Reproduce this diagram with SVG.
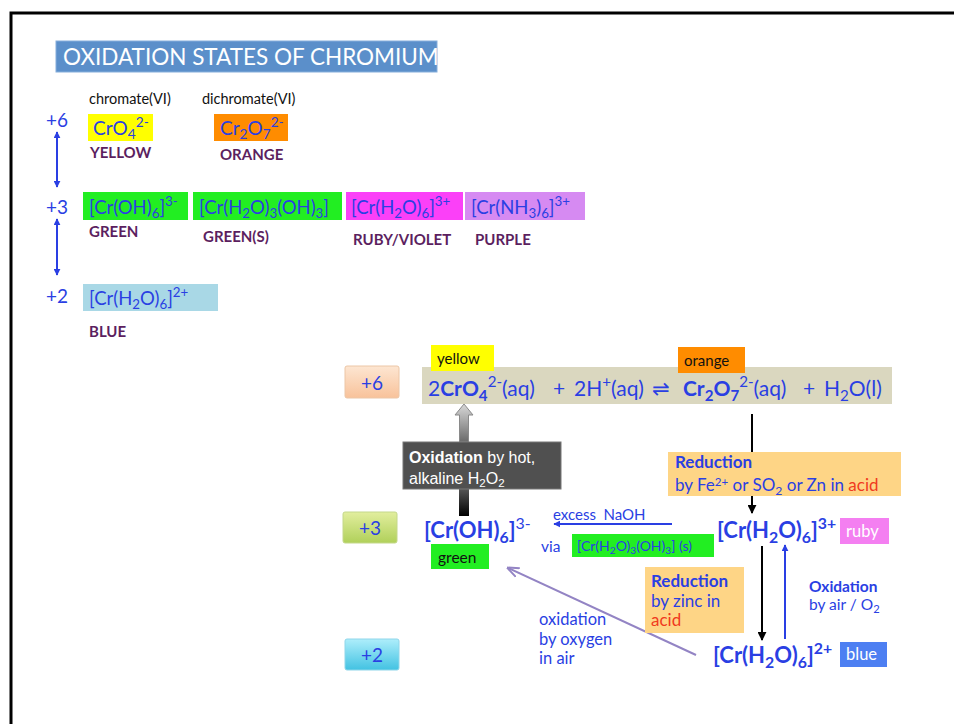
<svg xmlns="http://www.w3.org/2000/svg" width="954" height="724" viewBox="0 0 954 724">
<defs>
<style>
text{font-family:Lato,"Noto Sans","DejaVu Sans",sans-serif}
.bl{fill:#2a3fe3}
.lb{fill:#5c1f5f;font-weight:bold;font-size:15px}
.sb{font-size:72%;baseline-shift:-0.3em}
.sp{font-size:72%;baseline-shift:0.6em}
.sp2{font-size:68%;baseline-shift:0.45em}
.bo{font-weight:bold}
.red{fill:#f03a1e}
.wt{fill:#ffffff}
.ln{fill:none;stroke-width:2}
</style>
<linearGradient id="g6" x1="0" y1="0" x2="0" y2="1"><stop offset="0" stop-color="#fde6d2"/><stop offset="1" stop-color="#f8c29a"/></linearGradient>
<linearGradient id="g3" x1="0" y1="0" x2="0" y2="1"><stop offset="0" stop-color="#e2ee9e"/><stop offset="1" stop-color="#b0d05a"/></linearGradient>
<linearGradient id="g2" x1="0" y1="0" x2="0" y2="1"><stop offset="0" stop-color="#aeeefb"/><stop offset="1" stop-color="#42c2e2"/></linearGradient>
<linearGradient id="gg" x1="0" y1="0" x2="0" y2="1"><stop offset="0" stop-color="#d8d8d8"/><stop offset="1" stop-color="#6a6a6a"/></linearGradient>
<linearGradient id="gk" x1="0" y1="0" x2="0" y2="1"><stop offset="0" stop-color="#555"/><stop offset="1" stop-color="#000"/></linearGradient>
<marker id="ab" viewBox="0 0 10 10" refX="9" refY="5" markerWidth="7" markerHeight="7" markerUnits="userSpaceOnUse" orient="auto-start-reverse"><path d="M0,0 L10,5 L0,10 z" fill="#2a3fe3"/></marker>
<marker id="ak" viewBox="0 0 10 10" refX="9" refY="5" markerWidth="9" markerHeight="9" markerUnits="userSpaceOnUse" orient="auto"><path d="M0,0 L10,5 L0,10 z" fill="#000"/></marker>
<marker id="ap" viewBox="0 0 10 10" refX="9" refY="5" markerWidth="12" markerHeight="12" markerUnits="userSpaceOnUse" orient="auto"><path d="M0,1 L10,5 L0,9" fill="none" stroke="#9384c4" stroke-width="1.6"/></marker>
</defs>
<rect x="0" y="0" width="954" height="724" fill="#fff"/>
<path d="M11,724 V13 H954" fill="none" stroke="#000" stroke-width="3"/>

<g id="title">
<rect x="56" y="41" width="381" height="31" fill="#5b8fca" stroke="#86aedb" stroke-width="1"/>
<text x="63" y="65" font-size="22.5" fill="#fff">OXIDATION STATES OF CHROMIUM</text>
</g>

<g id="legend-connectors">
<line x1="57" y1="132" x2="57" y2="187" class="ln" stroke="#2a3fe3" stroke-width="1.5" marker-start="url(#ab)" marker-end="url(#ab)"/>
<line x1="57" y1="219" x2="57" y2="275" class="ln" stroke="#2a3fe3" stroke-width="1.5" marker-start="url(#ab)" marker-end="url(#ab)"/>
</g>

<g id="state6-top">
<text x="46" y="127" font-size="19" class="bl">+6</text>
<text x="89" y="104" font-size="14.5" fill="#111">chromate(VI)</text>
<text x="202" y="104" font-size="14.5" fill="#111">dichromate(VI)</text>
<rect x="88" y="114" width="65" height="27" fill="#ffff00"/>
<text x="93" y="135" font-size="19" class="bl">CrO<tspan class="sb">4</tspan><tspan class="sp">2-</tspan></text>
<rect x="214" y="114" width="74" height="27" fill="#ff8c00"/>
<text x="220" y="135" font-size="19" class="bl">Cr<tspan class="sb">2</tspan>O<tspan class="sb">7</tspan><tspan class="sp">2-</tspan></text>
<text x="90" y="158" class="lb">YELLOW</text>
<text x="220" y="160" class="lb">ORANGE</text>
</g>

<g id="state3-top">
<text x="46" y="214" font-size="19" class="bl">+3</text>
<rect x="83" y="192" width="105" height="28" fill="#22ee22"/>
<text x="89" y="214" font-size="18.5" class="bl">[Cr(OH)<tspan class="sb">6</tspan>]<tspan class="sp">3-</tspan></text>
<rect x="193" y="192" width="149" height="28" fill="#22ee22"/>
<text x="199" y="214" font-size="18.5" class="bl">[Cr(H<tspan class="sb">2</tspan>O)<tspan class="sb">3</tspan>(OH)<tspan class="sb">3</tspan>]</text>
<rect x="346" y="192" width="117" height="28" fill="#fb40f8"/>
<text x="351" y="214" font-size="18.5" class="bl">[Cr(H<tspan class="sb">2</tspan>O)<tspan class="sb">6</tspan>]<tspan class="sp">3+</tspan></text>
<rect x="465" y="192" width="120" height="28" fill="#d68af2"/>
<text x="471" y="214" font-size="18.5" class="bl">[Cr(NH<tspan class="sb">3</tspan>)<tspan class="sb">6</tspan>]<tspan class="sp">3+</tspan></text>
<text x="89" y="237" class="lb">GREEN</text>
<text x="203" y="242" class="lb">GREEN(S)</text>
<text x="353" y="245" class="lb">RUBY/VIOLET</text>
<text x="475" y="245" class="lb">PURPLE</text>
</g>

<g id="state2-top">
<text x="46" y="303" font-size="19" class="bl">+2</text>
<rect x="83" y="284" width="135" height="27" fill="#a9d8e6"/>
<text x="89" y="305" font-size="18.5" class="bl">[Cr(H<tspan class="sb">2</tspan>O)<tspan class="sb">6</tspan>]<tspan class="sp">2+</tspan></text>
<text x="89" y="337" class="lb">BLUE</text>
</g>

<g id="connectors">
<line x1="752" y1="414" x2="752" y2="513" stroke="#000" stroke-width="2" marker-end="url(#ak)"/>
<line x1="672" y1="524" x2="554" y2="524" stroke="#2a3fe3" stroke-width="2" marker-end="url(#ab)"/>
<line x1="762" y1="546" x2="762" y2="640" stroke="#000" stroke-width="2" marker-end="url(#ak)"/>
<line x1="785" y1="639" x2="785" y2="545" stroke="#2a3fe3" stroke-width="2" marker-end="url(#ab)"/>
<line x1="696" y1="655" x2="508" y2="568" stroke="#9384c4" stroke-width="2" marker-end="url(#ap)"/>
<polygon points="464,404 455,415 459.5,415 459.5,442 468.5,442 468.5,415 473,415" fill="url(#gg)" stroke="#8a8a8a" stroke-width="1"/>
<rect x="459" y="489" width="10" height="27" fill="url(#gk)"/>
</g>

<g id="eq6">
<rect x="345" y="366" width="54" height="32" rx="2" fill="url(#g6)" stroke="#ecc6a6" stroke-width="1"/>
<text x="372" y="390" font-size="19" class="bl" text-anchor="middle">+6</text>
<rect x="422" y="367" width="470" height="37" fill="#dad7bf"/>
<rect x="431" y="345" width="63" height="26" fill="#ffff00"/>
<text x="437" y="364" font-size="15" fill="#111">yellow</text>
<rect x="678" y="347" width="67" height="26" fill="#ff8c00"/>
<text x="684" y="366" font-size="15" fill="#111">orange</text>
<text y="396" font-size="21" class="bl"><tspan x="428">2</tspan><tspan class="bo">CrO</tspan><tspan class="sb bo">4</tspan><tspan class="sp">2-</tspan>(aq)<tspan x="553">+</tspan><tspan x="574">2H</tspan><tspan class="sp">+</tspan>(aq)<tspan x="652">⇌</tspan><tspan x="683" class="bo">Cr</tspan><tspan class="sb bo">2</tspan><tspan class="bo">O</tspan><tspan class="sb bo">7</tspan><tspan class="sp">2-</tspan>(aq)<tspan x="803">+</tspan><tspan x="824">H</tspan><tspan class="sb">2</tspan>O(l)</text>
</g>

<g id="oxidation-h2o2">
<rect x="403" y="442" width="158" height="47" fill="#505050" stroke="#777" stroke-width="1"/>
<text x="409" y="463" font-size="16" fill="#fff" style="font-family:'Liberation Sans',Arial,sans-serif"><tspan font-weight="bold">Oxidation</tspan> by hot,</text>
<text x="409" y="484" font-size="16" fill="#fff" style="font-family:'Liberation Sans',Arial,sans-serif">alkaline H<tspan class="sb">2</tspan>O<tspan class="sb">2</tspan></text>
</g>

<g id="state3">
<rect x="343" y="512" width="54" height="31" rx="2" fill="url(#g3)" stroke="#c4d88a" stroke-width="1"/>
<text x="370" y="535" font-size="19" class="bl" text-anchor="middle">+3</text>
</g>

<g id="cr-oh6">
<text x="424" y="538" font-size="22" class="bl bo">[Cr(OH)<tspan class="sb">6</tspan>]<tspan class="sp" font-weight="normal">3-</tspan></text>
<rect x="431" y="544" width="58" height="25" fill="#22ee22"/>
<text x="438" y="563" font-size="15.5" fill="#111">green</text>
</g>

<g id="naoh">
<text x="553" y="520" font-size="15" class="bl" xml:space="preserve">excess  NaOH</text>
<text x="541" y="552" font-size="15.5" class="bl">via</text>
<rect x="572" y="534" width="142" height="23" fill="#22ee22"/>
<text x="577" y="551" font-size="14" class="bl">[Cr(H<tspan class="sb">2</tspan>O)<tspan class="sb">3</tspan>(OH)<tspan class="sb">3</tspan>] (s)</text>
</g>

<g id="reduction1">
<rect x="668" y="452" width="233" height="44" fill="#fed586"/>
<text x="675" y="468" font-size="17" class="bl bo">Reduction</text>
<text x="675" y="491" font-size="17" class="bl">by Fe<tspan class="sp2">2+</tspan> or SO<tspan class="sb">2</tspan> or Zn in <tspan class="red">acid</tspan></text>
</g>

<g id="cr-h2o6-3">
<text x="717" y="538" font-size="22" class="bl bo">[Cr(H<tspan class="sb">2</tspan>O)<tspan class="sb">6</tspan>]<tspan class="sp">3+</tspan></text>
<rect x="840" y="518" width="49" height="26" fill="#f47ff1"/>
<text x="846" y="537" font-size="16.5" class="wt">ruby</text>
</g>

<g id="reduction2">
<rect x="645" y="567" width="99" height="66" fill="#fed586"/>
<text x="651" y="587" font-size="17" class="bl bo">Reduction</text>
<text x="651" y="607" font-size="17" class="bl">by zinc in</text>
<text x="651" y="626" font-size="17" class="red">acid</text>
</g>

<g id="oxidation-air">
<text x="809" y="592" font-size="15.5" class="bl bo">Oxidation</text>
<text x="809" y="610" font-size="15.5" class="bl">by air / O<tspan class="sb">2</tspan></text>
</g>

<g id="state2">
<rect x="345" y="639" width="54" height="31" rx="2" fill="url(#g2)" stroke="#8fd6ea" stroke-width="1"/>
<text x="372" y="662" font-size="19" class="bl" text-anchor="middle">+2</text>
</g>

<g id="oxidation-oxygen">
<text x="539" y="625" font-size="16.5" class="bl">oxidation</text>
<text x="539" y="645" font-size="16.5" class="bl">by oxygen</text>
<text x="539" y="664" font-size="16.5" class="bl">in air</text>
</g>

<g id="cr-h2o6-2">
<text x="713" y="663" font-size="22" class="bl bo">[Cr(H<tspan class="sb">2</tspan>O)<tspan class="sb">6</tspan>]<tspan class="sp">2+</tspan></text>
<rect x="840" y="642" width="47" height="25" fill="#4d7ff2"/>
<text x="846" y="660" font-size="16.5" class="wt">blue</text>
</g>
</svg>
